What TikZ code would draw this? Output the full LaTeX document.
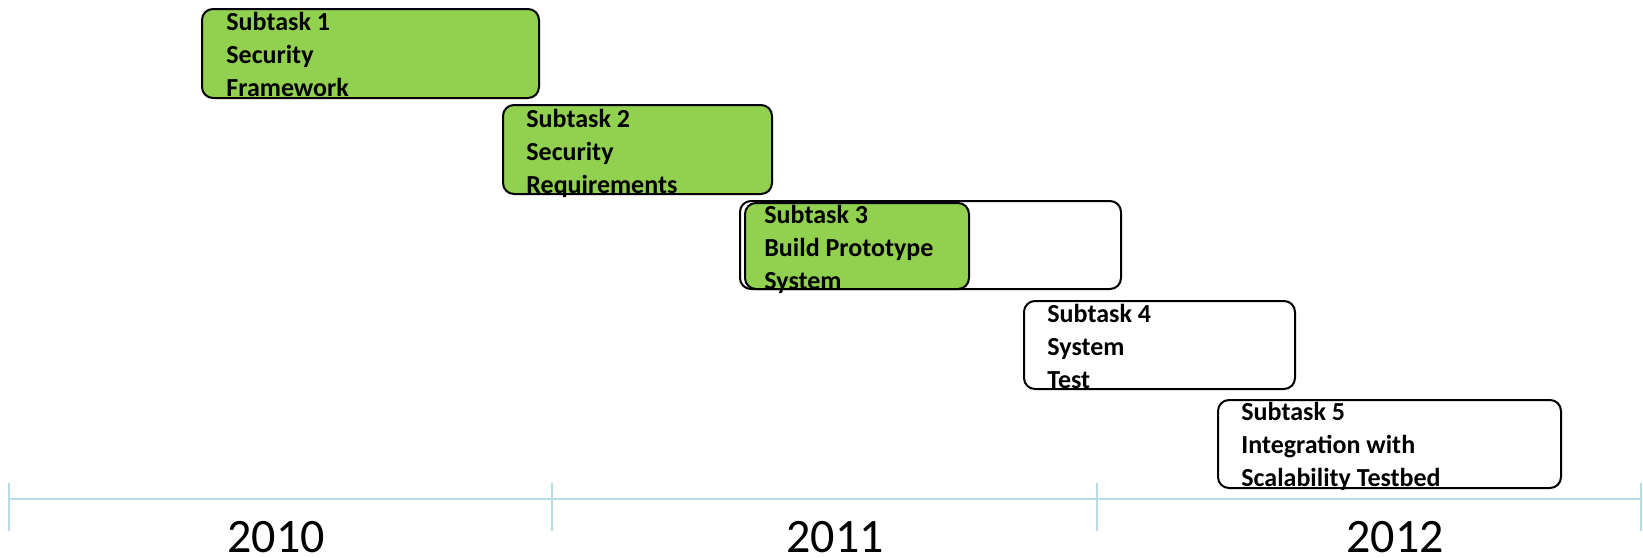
\documentclass[tikz,border=0pt]{standalone}
\usepackage{fontspec}
\setmainfont{Carlito}

\definecolor{taskgreen}{RGB}{146,208,80}
\definecolor{axisblue}{RGB}{183,221,228}

\tikzset{
    taskbox/.style={draw=black, line width=1pt, rounded corners=5.5pt},
    tasktext/.style={anchor=north west, align=left, inner sep=0pt,
        font=\fontsize{13}{16.5}\selectfont\bfseries},
    yearlabel/.style={anchor=base, inner sep=0pt, font=\fontsize{24}{28}\selectfont},
    axisline/.style={axisblue, line width=1pt}
}

\begin{document}
\begin{tikzpicture}[x=0.5pt, y=-0.5pt]
    \useasboundingbox (0,0) rectangle (1643,557);

    % Draw the subtask boxes
    \draw[taskbox, fill=taskgreen] (202,9) rectangle (539,98);
    \draw[taskbox, fill=taskgreen] (503,105) rectangle (772,194);
    \draw[taskbox, fill=white] (740,201) rectangle (1121,289);
    \draw[taskbox, fill=taskgreen] (745,203) rectangle (969,289);
    \draw[taskbox, fill=white] (1024,301) rectangle (1295,389);
    \draw[taskbox, fill=white] (1218,400) rectangle (1561,488);

    % Label the subtasks
    \node[tasktext] (t1) at (226,12) {Subtask 1\\Security\\Framework};
    \node[tasktext] (t2) at (526,109) {Subtask 2\\Security\\Requirements};
    \node[tasktext] (t3) at (764,205) {Subtask 3\\Build Prototype\\System};
    \node[tasktext] (t4) at (1047,304) {Subtask 4\\System\\Test};
    \node[tasktext] (t5) at (1241,402) {Subtask 5\\Integration with\\Scalability Testbed};

    % Draw the time axis
    \draw[axisline] (9,499) -- (1641,499);
    \foreach \x in {9,552,1097,1641} {
        \draw[axisline] (\x,483) -- (\x,531);
    }

    % Label the years
    \node[yearlabel] (y2010) at (276,552) {2010};
    \node[yearlabel] (y2011) at (835,552) {2011};
    \node[yearlabel] (y2012) at (1395,552) {2012};
\end{tikzpicture}
\end{document}
